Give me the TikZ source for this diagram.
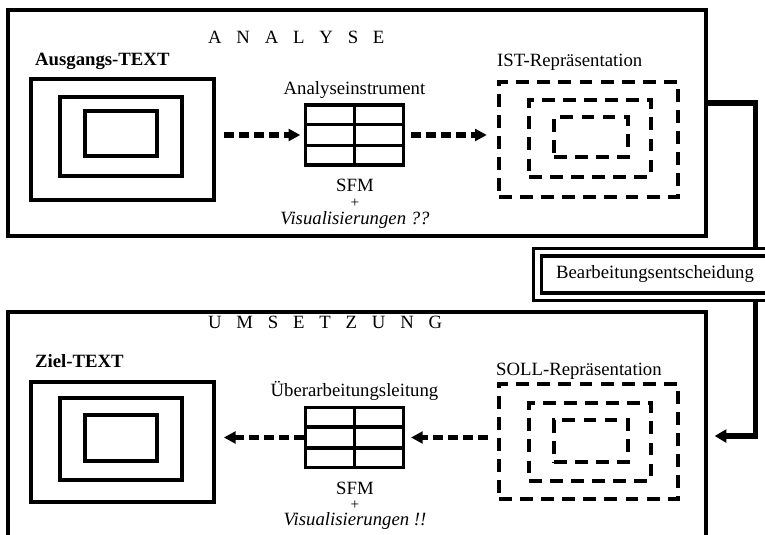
\documentclass[tikz,border=0pt]{standalone}
\usepackage{fontspec}
\setmainfont{Liberation Serif}
\usepackage{tikz}
\usetikzlibrary{arrows.meta, positioning, calc}

\newcommand{\luecke}{\hspace{.79em}}

\begin{document}
\begin{tikzpicture}[x=0.03cm, y=-0.03cm, font=\fontsize{16}{19}\selectfont,
		rahmen/.style={draw, line width=2.8pt, inner sep=0pt},
		strichrahmen/.style={draw, line width=2.8pt, dash pattern=on 11pt off 7pt, inner sep=0pt},
		tabelle/.style={draw, line width=2.8pt, inner sep=0pt, minimum width=2.94cm, minimum height=1.8cm},
		pfeil/.style={line width=4.5pt, dash pattern=on 8.5pt off 4.3pt, -{Triangle[length=10pt,width=10pt]}},
		verbindung/.style={line width=4.5pt, -{Triangle[length=10pt,width=11pt]}}]
		\useasboundingbox (0,0) rectangle (765,534);
		\clip (0,0) rectangle (765,534);
		
		% Bereiche
		\node[rahmen, minimum width=20.94cm, minimum height=6.78cm] (analyse) at (357,123) {};
		\node[rahmen, minimum width=20.94cm, minimum height=7.44cm] (umsetzung) at (357,436) {};
		\node[anchor=west] (titelA) at (204,37) {A\luecke N\luecke A\luecke L\luecke Y\luecke S\luecke E};
		\node[anchor=west] (titelU) at (204,322) {U\luecke M\luecke S\luecke E\luecke T\luecke Z\luecke U\luecke N\luecke G};
		
		% Texte
		\node[rahmen, minimum width=5.49cm, minimum height=3.63cm] (ausgang) at (122.5,139.5) {};
		\node[rahmen, minimum width=3.66cm, minimum height=2.37cm] (ausgangM) at (121,136.5) {};
		\node[rahmen, minimum width=2.16cm, minimum height=1.35cm] (ausgangI) at (121,133.5) {};
		\node[anchor=west, font=\fontsize{16}{19}\selectfont\bfseries] (ausgangL) at (31,61) {Ausgangs-TEXT};
		\node[rahmen, minimum width=5.49cm, minimum height=3.6cm] (ziel) at (122.5,442) {};
		\node[rahmen, minimum width=3.66cm, minimum height=2.46cm] (zielM) at (121,439) {};
		\node[rahmen, minimum width=2.16cm, minimum height=1.38cm] (zielI) at (121,438) {};
		\node[anchor=west, font=\fontsize{16}{19}\selectfont\bfseries] (zielL) at (31,361) {Ziel-TEXT};
		
		% Instrumente
		\node[tabelle] (instrA) at (354.5,135) {};
		\node[tabelle] (instrU) at (354.5,437.5) {};
		\foreach \t in {instrA, instrU} {
			\draw[line width=2.8pt] (\t.north) -- (\t.south);
			\draw[line width=2.8pt] ($(\t.north west)!1/3!(\t.south west)$) -- ($(\t.north east)!1/3!(\t.south east)$);
			\draw[line width=2.8pt] ($(\t.north west)!2/3!(\t.south west)$) -- ($(\t.north east)!2/3!(\t.south east)$);
		}
		\node[above=1pt of instrA] (instrAL) {Analyseinstrument};
		\node[above=1pt of instrU] (instrUL) {Überarbeitungsleitung};
		\node (sfmA) at (355,185) {SFM};
		\node[font=\fontsize{13}{14}\selectfont, inner sep=0pt] (plusA) at (355,203) {+};
		\node[font=\fontsize{16}{19}\selectfont\itshape] (visA) at (355,220) {Visualisierungen ??};
		\node (sfmU) at (355,488) {SFM};
		\node[font=\fontsize{13}{14}\selectfont, inner sep=0pt] (plusU) at (355,505) {+};
		\node[font=\fontsize{16}{19}\selectfont\itshape] (visU) at (355,521) {Visualisierungen !!};
		
		% Repraesentationen
		\node[strichrahmen, minimum width=5.37cm, minimum height=3.45cm] (ist) at (588.5,139.5) {};
		\node[strichrahmen, minimum width=3.66cm, minimum height=2.31cm] (istM) at (590,138.5) {};
		\node[strichrahmen, minimum width=2.22cm, minimum height=1.2cm] (istI) at (591,137) {};
		\node[anchor=west] (istL) at (493,62) {IST-Repräsentation};
		\node[strichrahmen, minimum width=5.37cm, minimum height=3.45cm] (soll) at (588.5,441.5) {};
		\node[strichrahmen, minimum width=3.66cm, minimum height=2.34cm] (sollM) at (590,442) {};
		\node[strichrahmen, minimum width=2.22cm, minimum height=1.26cm] (sollI) at (591,441) {};
		\node[anchor=west] (sollL) at (492,371) {SOLL-Repräsentation};
		
		% Pfeile
		\draw[pfeil, shorten <=7pt, shorten >=3pt] (ausgang.east |- instrA.west) -- (instrA.west);
		\draw[pfeil, shorten <=5pt, shorten >=9pt] (instrA.east) -- (ist.west |- instrA.east);
		\draw[pfeil, shorten <=8pt, shorten >=5pt] (soll.west |- instrU.east) -- (instrU.east);
		\draw[pfeil, shorten >=7pt] (instrU.west) -- (ziel.east |- instrU.west);
		
		% Entscheidung (rechts offen, ragt aus dem Bild)
		\draw[verbindung, shorten >=6pt] ([yshift=.6cm]analyse.east) -- ++(48,0) |- (umsetzung.east);
		\node[fill=white, inner sep=0pt, minimum width=7.29cm, minimum height=1.56cm] (entscheid) at (655,274.5) {Bearbeitungsentscheidung};
		\draw[line width=2.8pt] ([xshift=1cm]entscheid.north east) -| (entscheid.south west) -- ([xshift=1cm]entscheid.south east);
		\draw[line width=2.8pt] ([shift={(1cm,-6.5pt)}]entscheid.north east) -| ([shift={(7pt,6.5pt)}]entscheid.south west) -- ([shift={(1cm,6.5pt)}]entscheid.south east);
	\end{tikzpicture}
\end{document}
